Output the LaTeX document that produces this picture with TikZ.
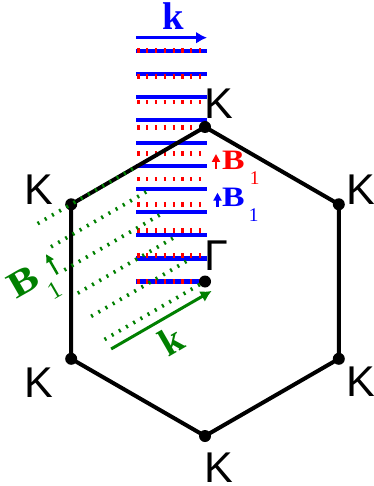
\documentclass[tikz,border=0pt]{standalone}
\usepackage{fontspec}
\setmainfont{Liberation Serif}
\newfontfamily\zonefont{Liberation Sans}
\usetikzlibrary{arrows.meta}
\definecolor{wblue}{HTML}{0000FF}
\definecolor{wred}{HTML}{FF0000}
\definecolor{wgreen}{HTML}{008000}
\newcommand\Bvec[3]{\fontsize{#1}{#1}\selectfont\bfseries\scalebox{1.2}[1]{B}\hspace{#3}\raisebox{-0.52em}{\fontsize{#2}{#2}\selectfont\mdseries 1}}

\begin{document}
\begin{tikzpicture}[
    x=0.2mm, y=-0.2mm,
    every node/.style={inner sep=0pt, outer sep=0pt},
    corner/.style={circle, fill=black, minimum size=2.4mm},
    zone/.style={font=\zonefont\fontsize{24.5}{24.5}\selectfont, anchor=base west},
    hexline/.style={line width=0.8mm, line join=round},
    bstripe/.style={wblue, line width=0.85mm},
    rstripe/.style={wred, line width=0.95mm, dash pattern=on 0.45mm off 1.31mm},
    gstripe/.style={wgreen, line width=0.75mm, dash pattern=on 0.4mm off 1.26mm},
    wave/.style={line width=0.6mm, -{Latex[length=2.2mm, width=2.4mm]}},
    wavek/.style={font=\bfseries\fontsize{22}{22}\selectfont},
    fieldarrow/.style={line width=0.5mm, -{Triangle[length=1.6mm, width=1.6mm]}},
]
\useasboundingbox (0,0) rectangle (373,486);

% stripes of the horizontal wave
\foreach \i in {0,...,10}
    \draw[bstripe] (136,{50.7+23.08*\i}) -- (207,{50.7+23.08*\i});
\foreach \i in {0,...,9}
    \draw[rstripe] (137.3,{50.7+25.64*\i}) -- (206,{50.7+25.64*\i});

% zone corners
\node[corner] (Ktop) at (205,127) {};
\node[corner] (Kur) at (338.8,204.3) {};
\node[corner] (Klr) at (338.8,358.8) {};
\node[corner] (Kbot) at (205,436) {};
\node[corner] (Kll) at (71.2,358.8) {};
\node[corner] (Kul) at (71.2,204.3) {};
\node[corner] (G) at (205,281.5) {};
\draw[hexline] (Ktop.center) -- (Kur.center) -- (Klr.center) -- (Kbot.center)
    -- (Kll.center) -- (Kul.center) -- cycle;

\node[zone] (lKtop) at (204.8,119) {K};
\node[zone] (lKul) at (24.8,205) {K};
\node[zone] (lKur) at (346.8,205) {K};
\node[zone] (lKll) at (24.8,397) {K};
\node[zone] (lKlr) at (346.8,396) {K};
\node[zone] (lKbot) at (204.8,482) {K};
\node[zone] (lG) at (204.6,270) {Γ};

% horizontal wave
\coordinate (kb0) at (136,37.7);
\coordinate (kb1) at (207,37.7);
\draw[wave, wblue] (kb0) -- (kb1);
\node[wavek, text=wblue, anchor=base west] (kb) at (162.5,30) {k};

\node[text=wred, anchor=base west] (Bred) at (222,170) {\Bvec{16}{11}{3pt}};
\draw[fieldarrow, wred] (Bred.base west) ++(-6,-1) -- ++(0,-15);
\node[text=wblue, anchor=base west] (Bblue) at (222,206.7) {\Bvec{16}{11}{2.5pt}};
\draw[fieldarrow, wblue] (Bblue.base west) ++(-4.5,0) -- ++(0,-14);

% tilted wave
\begin{scope}[shift={(G.center)}, rotate=30]
    \foreach \j in {0,...,5}
        \draw[gstripe] (-116,{-26.76*\j}) -- (0,{-26.76*\j});
    \coordinate (kg0) at (-115,11.5);
    \coordinate (kg1) at (1,11.5);
    \draw[wave, wgreen] (kg0) -- (kg1);
    \node[wavek, text=wgreen, anchor=base, transform shape] (kg) at (-59,47.5) {k};
    \node[text=wgreen, anchor=base west, transform shape] (Bgreen) at (-172,-79) {\Bvec{21}{14}{1pt}};
    \draw[fieldarrow, wgreen] (Bgreen.base west) ++(48,-1) -- ++(0,-23);
\end{scope}
\end{tikzpicture}
\end{document}
